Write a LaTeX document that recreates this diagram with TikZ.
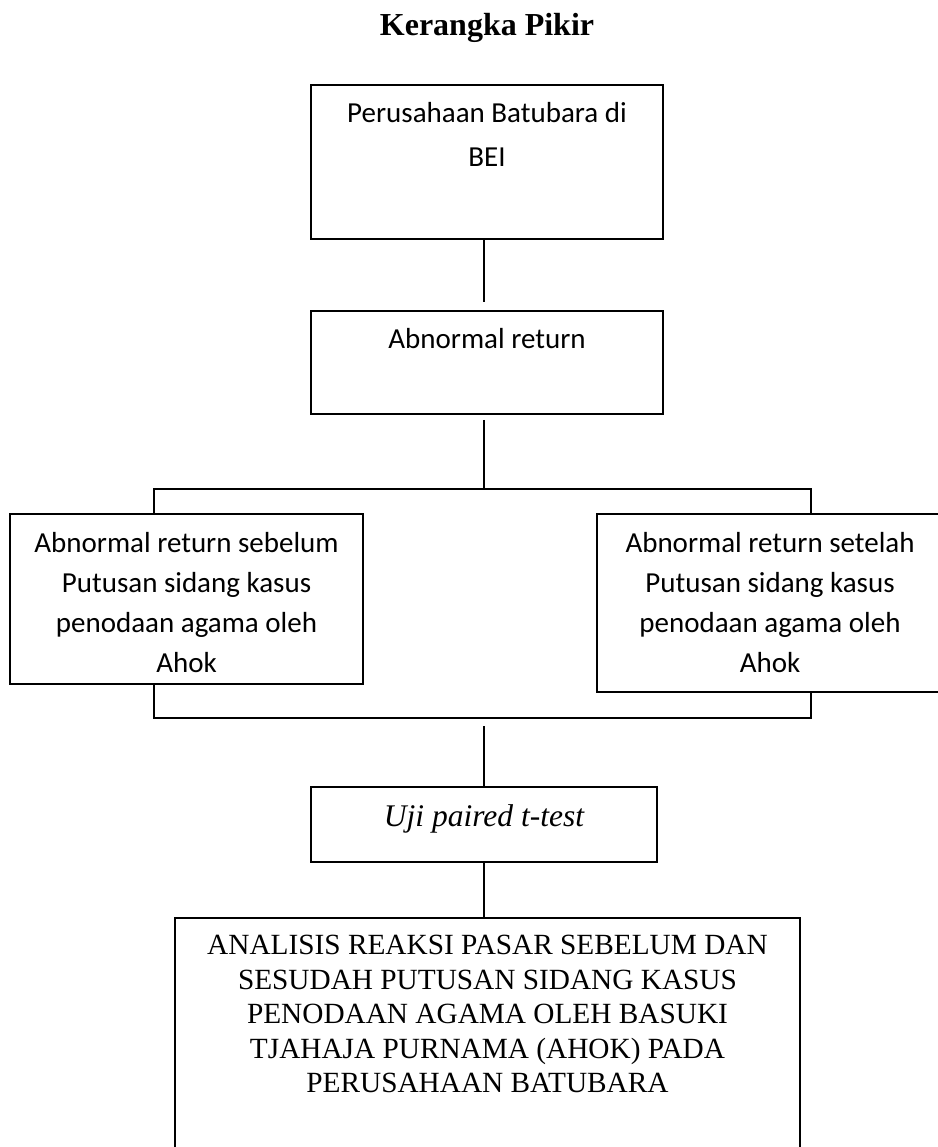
\documentclass[tikz,border=0pt]{standalone}
\usepackage{fontspec}
\setmainfont{Liberation Serif}
\newfontfamily\calibri{Carlito}
\usetikzlibrary{positioning,calc}
\tikzset{
  kotak/.style={draw, line width=1.8pt, fill=white, inner sep=0pt, align=flush center, anchor=north},
  kotakcal/.style={kotak, font=\calibri\fontsize{29}{40}\selectfont},
  kotaktnr/.style={kotak, font=\fontsize{29.3}{34.5}\selectfont},
  garis/.style={line width=1.8pt},
}

\begin{document}
\begin{tikzpicture}[x=1pt, y=-1pt]
\path[use as bounding box, fill=white] (0,0) rectangle (937,1147);
\node[font=\fontsize{32}{38}\selectfont\bfseries, anchor=base] (judul) at (487,36) {Kerangka Pikir};

% kotak atas
\node[kotakcal, text width=352pt, text height=38pt, text depth=116pt, font=\calibri\fontsize{29}{44}\selectfont] (bursa) at (487,84) {Perusahaan Batubara di\\BEI};
\node[kotakcal, text width=352pt, text height=38pt, text depth=65pt] (abnormal) at (487,310) {Abnormal return};

% cabang sebelum / setelah
\coordinate (sumbu) at (484,0);
\coordinate (cabangkiri) at (154,489);
\coordinate (cabangkanan) at (811,718);
\draw[garis] (cabangkiri) rectangle (cabangkanan);
\node[kotakcal, text width=353pt, text height=39pt, text depth=131pt] (sebelum) at (186.5,513) {Abnormal return sebelum\\Putusan sidang kasus\\penodaan agama oleh\\Ahok};
\node[kotakcal, text width=346pt, text height=39pt, text depth=139pt] (setelah) at (770,513) {Abnormal return setelah\\Putusan sidang kasus\\penodaan agama oleh\\Ahok};

% uji dan kesimpulan
\node[kotak, text width=346pt, text height=40pt, text depth=35pt, font=\fontsize{31.5}{36}\selectfont\itshape] (uji) at (484,786) {Uji paired t-test};
\node[kotaktnr, text width=625pt, text height=37pt, text depth=211pt] (analisis) at (487.5,917) {ANALISIS REAKSI PASAR SEBELUM DAN\\SESUDAH PUTUSAN SIDANG KASUS\\PENODAAN AGAMA OLEH BASUKI\\TJAHAJA PURNAMA (AHOK) PADA\\PERUSAHAAN BATUBARA};

\draw[garis, shorten >=8pt] (bursa.south -| sumbu) -- (abnormal.north -| sumbu);
\draw[garis, shorten <=5pt] (abnormal.south -| sumbu) -- (sumbu |- cabangkiri);
\draw[garis, shorten <=8pt] (sumbu |- cabangkanan) -- (uji.north -| sumbu);
\draw[garis] (uji.south -| sumbu) -- (analisis.north -| sumbu);
\end{tikzpicture}
\end{document}
